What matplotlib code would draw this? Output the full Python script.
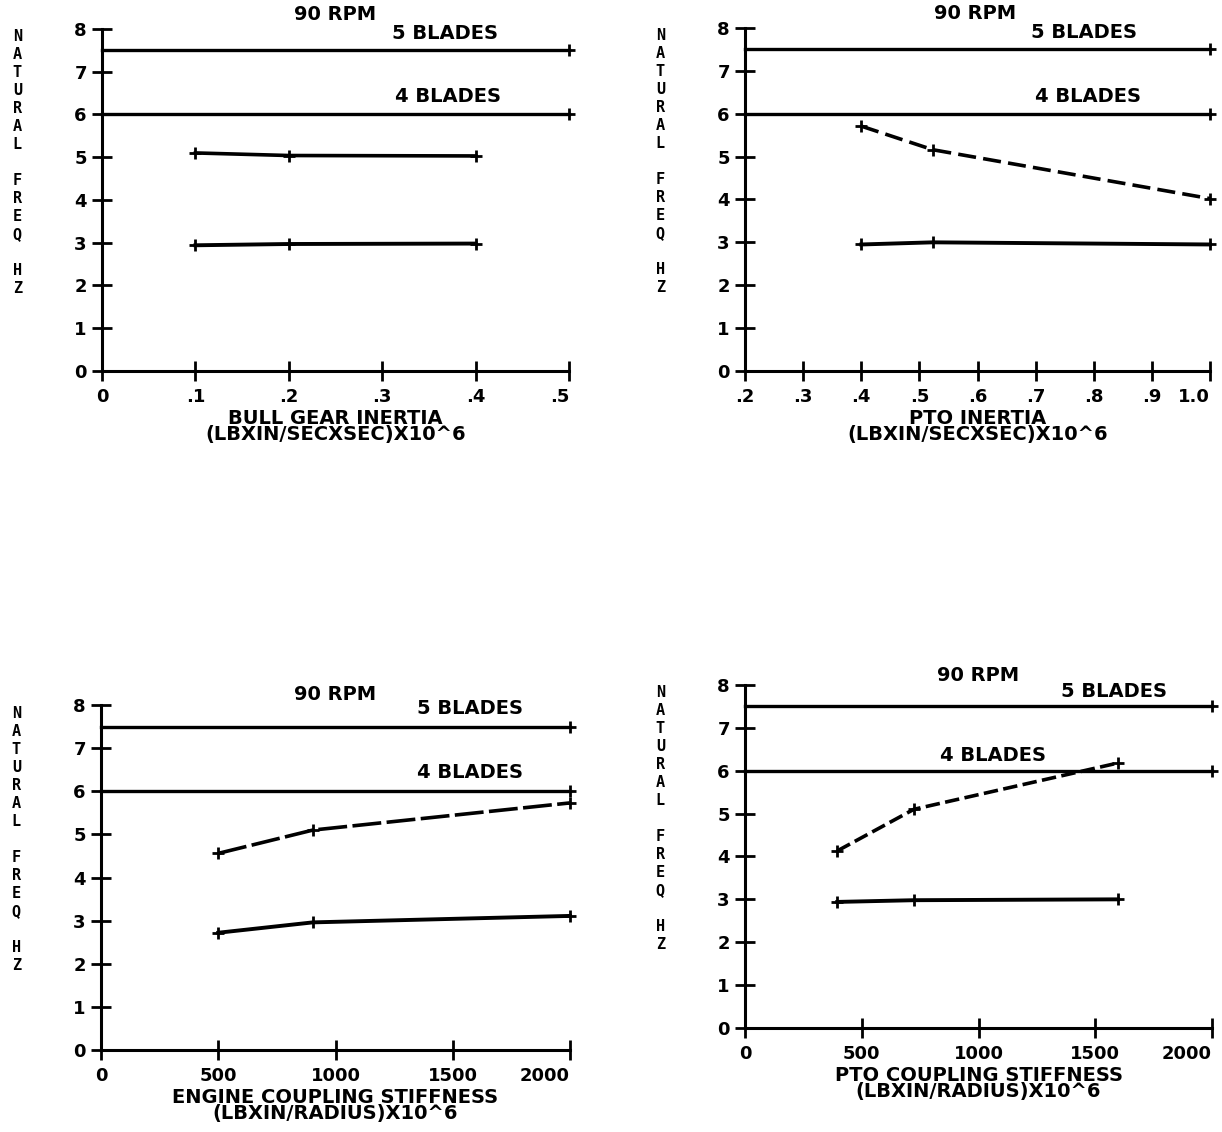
import matplotlib
matplotlib.use("Agg")
import matplotlib.pyplot as plt

plt.rcParams['font.family'] = ['DejaVu Sans']
plt.rcParams['font.weight'] = 'bold'

# ---------------- data ----------------
yticks = [0, 1, 2, 3, 4, 5, 6, 7, 8]
ytick_labels = ["0", "1", "2", "3", "4", "5", "6", "7", "8"]

blade_levels = [7.5, 6.0]
blade_labels = ["5 BLADES", "4 BLADES"]
rpm_label = "90 RPM"
ylabel_text = "N\nA\nT\nU\nR\nA\nL\n\nF\nR\nE\nQ\n\nH\nZ"

# Panel 1: bull gear inertia
bull_x = [0.1, 0.2, 0.4]
bull_upper = [5.10, 5.04, 5.03]
bull_lower = [2.94, 2.97, 2.98]
bull_xticks = [0, 0.1, 0.2, 0.3, 0.4, 0.5]
bull_xticklabels = ["0", ".1", ".2", ".3", ".4", ".5"]
bull_xlabel = ["BULL GEAR INERTIA", "(LBXIN/SECXSEC)X10^6"]

# Panel 2: PTO inertia
pto_in_x = [0.4, 0.523, 1.0]
pto_in_upper = [5.71, 5.16, 4.02]
pto_in_lower = [2.95, 3.00, 2.95]
pto_in_xticks = [0.2, 0.3, 0.4, 0.5, 0.6, 0.7, 0.8, 0.9, 1.0]
pto_in_xticklabels = [".2", ".3", ".4", ".5", ".6", ".7", ".8", ".9", "1.0"]
pto_in_xlabel = ["PTO INERTIA", "(LBXIN/SECXSEC)X10^6"]

# Panel 3: engine coupling stiffness
eng_x = [500, 903, 2000]
eng_upper = [4.56, 5.10, 5.73]
eng_lower = [2.72, 2.96, 3.11]
stiff_xticks = [0, 500, 1000, 1500, 2000]
stiff_xticklabels = ["0", "500", "1000", "1500", "2000"]
eng_xlabel = ["ENGINE COUPLING STIFFNESS", "(LBXIN/RADIUS)X10^6"]

# Panel 4: PTO coupling stiffness
ptc_x = [395, 723, 1597]
ptc_upper = [4.13, 5.10, 6.18]
ptc_lower = [2.94, 2.98, 3.00]
ptc_xlabel = ["PTO COUPLING STIFFNESS", "(LBXIN/RADIUS)X10^6"]

# ---------------- layout ----------------
W, H = 1222, 1132
fig = plt.figure(figsize=(W / 100, H / 100), dpi=100)

panels = [
    dict(rect=[0.0835, 0.6723, 0.3822, 0.3021], xlim=(0, 0.5),
         xticks=bull_xticks, xtl=bull_xticklabels, x=bull_x,
         up=bull_upper, lo=bull_lower, xlabel=bull_xlabel, up_ls='-',
         rpm=(0.50, 8.33), b5=(0.735, 7.90), b4=(0.741, 6.41)),
    dict(rect=[0.6097, 0.6723, 0.3805, 0.3030], xlim=(0.2, 1.0),
         xticks=pto_in_xticks, xtl=pto_in_xticklabels, x=pto_in_x,
         up=pto_in_upper, lo=pto_in_lower, xlabel=pto_in_xlabel, up_ls=(0, (5, 2)),
         rpm=(0.495, 8.33), b5=(0.73, 7.90), b4=(0.738, 6.41)),
    dict(rect=[0.0827, 0.0724, 0.3838, 0.3048], xlim=(0, 2000),
         xticks=stiff_xticks, xtl=stiff_xticklabels, x=eng_x,
         up=eng_upper, lo=eng_lower, xlabel=eng_xlabel, up_ls=(0, (8, 1.5)),
         rpm=(0.50, 8.24), b5=(0.787, 7.93), b4=(0.787, 6.43)),
    dict(rect=[0.6097, 0.0919, 0.3822, 0.3030], xlim=(0, 2000),
         xticks=stiff_xticks, xtl=stiff_xticklabels, x=ptc_x,
         up=ptc_upper, lo=ptc_lower, xlabel=ptc_xlabel, up_ls=(0, (4, 1.5)),
         rpm=(0.499, 8.22), b5=(0.79, 7.85), b4=(0.531, 6.35)),
]

TXT = 14
for p in panels:
    ax = fig.add_axes(p['rect'])
    ax.patch.set_alpha(0)
    x0, x1 = p['xlim']
    ax.set_xlim(x0, x1)
    ax.set_ylim(0, 8)
    for s in ['top', 'right']:
        ax.spines[s].set_visible(False)
    for s in ['left', 'bottom']:
        ax.spines[s].set_linewidth(2.2)
    ax.set_xticks(p['xticks'])
    ax.set_xticklabels(p['xtl'])
    ax.set_yticks(yticks)
    ax.set_yticklabels(ytick_labels)
    ax.tick_params(axis='both', direction='inout', length=14, width=2.0,
                   labelsize=13, pad=5)
    ax.tick_params(axis='y', pad=4)
    # last x tick label sits left of its tick, as on the plotter output
    ax.get_xticklabels()[-1].set_horizontalalignment('right')

    # blade-rate lines
    for lvl in blade_levels:
        ax.plot([x0, x1], [lvl, lvl], color='black', lw=2.4,
                marker='+', ms=9, mew=2, markevery=[1], clip_on=False)

    # data series
    ax.plot(p['x'], p['up'], color='black', lw=2.6, ls=p['up_ls'],
            marker='+', ms=9, mew=2, clip_on=False)
    ax.plot(p['x'], p['lo'], color='black', lw=2.8, ls='-',
            marker='+', ms=9, mew=2, clip_on=False)

    def fx(f):
        return x0 + f * (x1 - x0)

    ax.text(fx(p['rpm'][0]), p['rpm'][1], rpm_label, ha='center', va='center',
            fontsize=TXT, fontweight='bold')
    ax.text(fx(p['b5'][0]), p['b5'][1], blade_labels[0], ha='center', va='center',
            fontsize=TXT, fontweight='bold')
    ax.text(fx(p['b4'][0]), p['b4'][1], blade_labels[1], ha='center', va='center',
            fontsize=TXT, fontweight='bold')

    # x label lines
    ax.annotate(p['xlabel'][0], xy=(0.5, 0), xycoords='axes fraction',
                xytext=(0, -34), textcoords='offset points',
                ha='center', va='center', fontsize=TXT, fontweight='bold')
    ax.annotate(p['xlabel'][1], xy=(0.5, 0), xycoords='axes fraction',
                xytext=(0, -46), textcoords='offset points',
                ha='center', va='center', fontsize=TXT, fontweight='bold')

    # stacked y label
    ax.annotate(ylabel_text, xy=(0, 0.61), xycoords='axes fraction',
                xytext=(-61, 0), textcoords='offset points',
                ha='center', va='center', fontsize=11, fontweight='bold',
                family=['DejaVu Sans Mono'], linespacing=1.25)

fig.savefig("out.png", dpi=100)
